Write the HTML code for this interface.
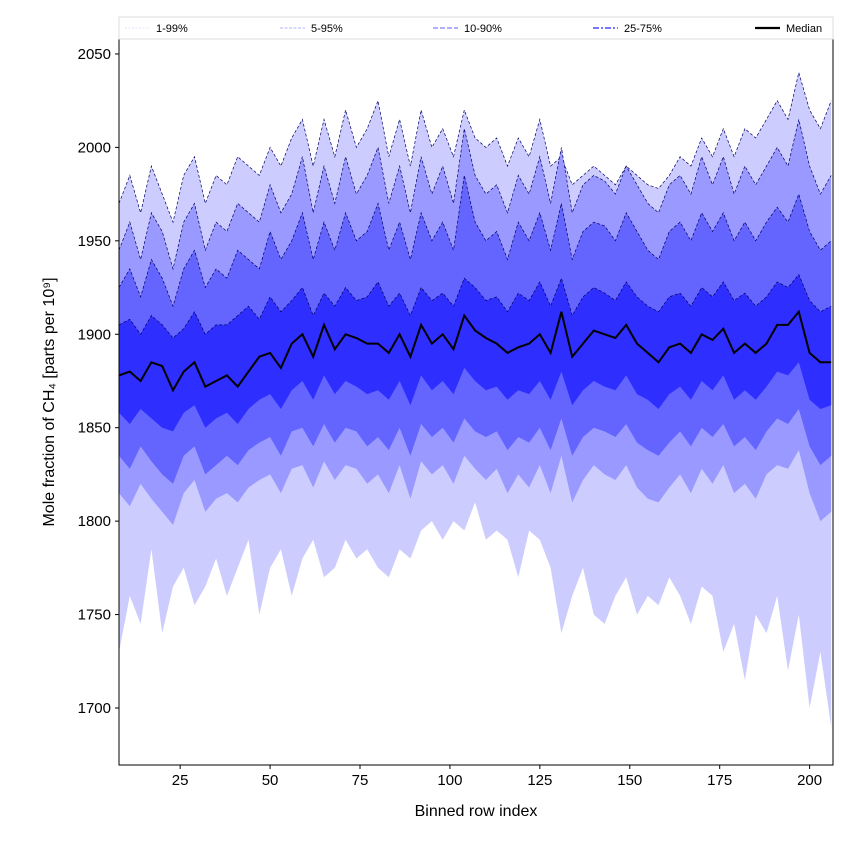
<!DOCTYPE html>
<html><head><meta charset="utf-8"><style>
body{margin:0;background:#fff;}
svg text{font-family:"Liberation Sans","DejaVu Sans",sans-serif;}
</style></head><body>
<svg id="chart" width="850" height="850" xmlns="http://www.w3.org/2000/svg">
<rect width="850" height="850" fill="#fff"/>
<g id="bands"></g>
<g id="axes"></g>
<g id="legend"></g>
</svg>
<script>
const xStart = 8, xStep = 3;
const med = [1878,1880,1875,1885,1883,1870,1880,1885,1872,1875,1878,1872,1880,1888,1890,1882,1895,1900,1888,1905,1892,1900,1898,1895,1895,1890,1900,1888,1905,1895,1900,1892,1910,1902,1898,1895,1890,1893,1895,1900,1890,1912,1888,1895,1902,1900,1898,1905,1895,1890,1885,1893,1895,1890,1900,1897,1903,1890,1895,1890,1895,1905,1905,1912,1890,1885,1885];
const p75 = [1905,1908,1900,1910,1905,1898,1903,1912,1900,1905,1905,1910,1915,1908,1920,1912,1918,1925,1910,1922,1915,1925,1918,1920,1928,1915,1922,1910,1925,1918,1922,1915,1930,1925,1918,1920,1912,1922,1918,1928,1915,1930,1910,1920,1925,1922,1918,1928,1920,1915,1912,1920,1922,1915,1925,1920,1928,1918,1922,1915,1920,1928,1925,1932,1918,1912,1915];
const p25 = [1858,1852,1860,1855,1850,1848,1858,1862,1850,1855,1858,1852,1860,1865,1868,1860,1870,1875,1865,1878,1868,1875,1872,1868,1870,1865,1875,1862,1878,1870,1875,1868,1882,1875,1870,1872,1865,1870,1868,1875,1865,1880,1862,1870,1875,1872,1870,1878,1868,1865,1860,1868,1872,1865,1875,1870,1878,1865,1870,1865,1872,1880,1878,1885,1865,1860,1862];
const p90 = [1925,1935,1920,1940,1930,1915,1935,1945,1925,1935,1930,1945,1940,1935,1955,1940,1950,1965,1940,1960,1945,1965,1950,1955,1970,1945,1960,1940,1965,1950,1960,1945,1985,1960,1950,1955,1940,1960,1950,1965,1945,1970,1940,1955,1960,1958,1950,1965,1955,1945,1940,1955,1960,1950,1965,1955,1965,1950,1960,1950,1960,1968,1960,1975,1955,1945,1950];
const p10 = [1835,1828,1840,1832,1825,1820,1835,1840,1825,1830,1835,1830,1838,1842,1845,1835,1848,1850,1840,1852,1842,1850,1848,1840,1845,1838,1850,1835,1852,1845,1850,1842,1855,1848,1845,1848,1838,1845,1842,1850,1838,1855,1835,1845,1850,1848,1845,1852,1842,1838,1835,1842,1848,1840,1850,1845,1852,1840,1845,1838,1848,1855,1852,1860,1840,1830,1835];
const p95 = [1945,1960,1940,1965,1955,1935,1960,1970,1945,1960,1955,1970,1965,1960,1980,1965,1975,1995,1965,1990,1970,1995,1975,1985,2000,1970,1990,1965,1995,1975,1990,1970,2010,1985,1975,1980,1965,1985,1975,1995,1970,2000,1965,1980,1985,1982,1975,1990,1980,1970,1965,1980,1985,1975,1995,1980,1995,1975,1990,1980,1990,2000,1990,2015,1990,1975,1985];
const p5 = [1815,1808,1820,1812,1805,1798,1815,1822,1805,1812,1815,1810,1818,1822,1825,1815,1828,1830,1818,1832,1822,1830,1828,1820,1825,1815,1830,1812,1832,1825,1830,1820,1835,1828,1822,1828,1815,1825,1818,1830,1815,1835,1810,1822,1830,1825,1822,1830,1818,1812,1810,1818,1825,1815,1828,1820,1830,1815,1820,1812,1825,1830,1828,1838,1815,1800,1805];
const p99 = [1970,1985,1965,1990,1975,1960,1985,1995,1970,1985,1980,1995,1990,1985,2000,1990,2005,2015,1990,2015,1995,2020,2000,2010,2025,1995,2015,1990,2020,2000,2010,1995,2020,2005,2000,2005,1990,2005,1995,2015,1990,1995,1980,1985,1990,1985,1980,1990,1985,1980,1978,1985,1995,1990,2005,1995,2010,1995,2010,2005,2015,2025,2015,2040,2020,2010,2025];
const p1 = [1730,1760,1745,1785,1740,1765,1775,1755,1765,1780,1760,1775,1790,1750,1775,1785,1760,1780,1790,1770,1775,1790,1780,1785,1775,1770,1785,1780,1795,1800,1790,1800,1795,1810,1790,1795,1790,1770,1795,1790,1775,1740,1760,1775,1750,1745,1760,1770,1750,1760,1755,1770,1760,1745,1765,1760,1730,1745,1715,1750,1740,1760,1720,1750,1700,1730,1690];
const xTicks = [25,50,75,100,125,150,175,200];
const yTicks = [1700,1750,1800,1850,1900,1950,2000,2050];

const L=119,R=833,T=39,B=765, xMin=8, xMax=206.5, yMin=1669.5, yMax=2058;
const sx=v=>L+(v-xMin)/(xMax-xMin)*(R-L);
const sy=v=>B-(v-yMin)/(yMax-yMin)*(B-T);
const NS="http://www.w3.org/2000/svg";
function mk(tag,attrs,parent){const e=document.createElementNS(NS,tag);for(const k in attrs)e.setAttribute(k,attrs[k]);parent.appendChild(e);return e;}
const xs = med.map((_,i)=>xStart+i*xStep);
const pts=a=>a.map((v,i)=>sx(xs[i]).toFixed(1)+","+sy(v).toFixed(1));
const bands=document.getElementById('bands');
const defs=[[p99,p1,'#ccccff','1-99'],[p95,p5,'#9999ff','5-95'],[p90,p10,'#6464ff','10-90'],[p75,p25,'#2e2eff','25-75']];
defs.forEach(d=>{
  const poly=mk('polygon',{points:pts(d[0]).concat(pts(d[1]).reverse()).join(' '),fill:d[2]},bands);
  
  
  const ln=mk('polyline',{points:pts(d[0]).join(' '),fill:'none',stroke:'#000066','stroke-width':0.7,'stroke-dasharray':'3,2'},bands);
  
  
});
const ml=mk('polyline',{points:pts(med).join(' '),fill:'none',stroke:'#000','stroke-width':2},bands);



const ax=document.getElementById('axes');
mk('rect',{x:L,y:T,width:R-L,height:B-T,fill:'none',stroke:'#000','stroke-width':1},ax);
xTicks.forEach(t=>{
  const x=sx(t);
  mk('line',{x1:x,x2:x,y1:B,y2:B+4,stroke:'#000'},ax);
  const tx=mk('text',{x:x,y:B+20,'text-anchor':'middle','font-size':15},ax);tx.textContent=t;
  
  
});
yTicks.forEach(t=>{
  const y=sy(t);
  mk('line',{x1:L-4,x2:L,y1:y,y2:y,stroke:'#000'},ax);
  const tx=mk('text',{x:L-8,y:y+5,'text-anchor':'end','font-size':15},ax);tx.textContent=t;
  
  
});
const xt=mk('text',{x:(L+R)/2,y:816,'text-anchor':'middle','font-size':16},ax);xt.textContent='Binned row index';


const yt=mk('text',{x:0,y:0,'text-anchor':'middle','font-size':16,transform:`translate(54,${(T+B)/2}) rotate(-90)`},ax);yt.textContent='Mole fraction of CH₄ [parts per 10⁹]';



const lg=document.getElementById('legend');
mk('rect',{x:119,y:17,width:714,height:22,fill:'#fff',stroke:'#ddd'},lg);
const items=[[125,'1-99%','#d8d8ff',0.8,'2,1.5'],[280,'5-95%','#9999ff',0.8,'3,1.5'],[433,'10-90%','#8080ff',1.2,'5,2'],[593,'25-75%','#4a4aff',1.6,'6,2,2,2'],[755,'Median','#000',2.2,'']];
items.forEach(it=>{
  const g=mk('g',{},lg);
  
  
  const a={x1:it[0],x2:it[0]+25,y1:28,y2:28,stroke:it[2],'stroke-width':it[3]};
  if(it[4])a['stroke-dasharray']=it[4];
  mk('line',a,g);
  const t=mk('text',{x:it[0]+31,y:32,'font-size':11},g);t.textContent=it[1];
});
</script>
</body></html>
